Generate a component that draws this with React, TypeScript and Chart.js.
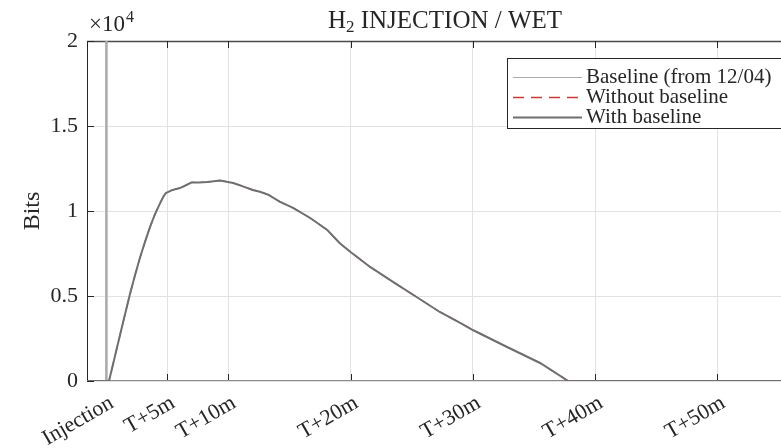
import { useEffect, useRef } from 'react';
import { Chart, registerables } from 'chart.js';

Chart.register(...registerables);

// Time axis in minutes relative to the injection
const xTickValues = [0, 5, 10, 20, 30, 40, 50];
const xTickLabels = ['Injection', 'T+5m', 'T+10m', 'T+20m', 'T+30m', 'T+40m', 'T+50m'];
const yTickValues = [0, 5000, 10000, 15000, 20000];
const yTickLabels = ['0', '0.5', '1', '1.5', '2'];

const baselineTime = [-1.55, 0, 0, 0.08, 0.08, 55.2];
const baselineBits = [0, 0, 30000, 30000, 0, 0];

const measureTime = [
  -1.55, 0.25, 0.7, 1.15, 1.55, 1.96, 2.37, 2.78, 3.2, 3.6, 4.0, 4.42, 4.7, 4.9, 5.4, 6.05,
  6.5, 7.0, 7.6, 8.3, 9.33, 10.4, 11.2, 12.0, 12.6, 13.3, 14.2, 15.3, 16.7, 18.1, 19.1, 20.0,
  21.6, 23.5, 25.4, 27.3, 29.0, 30.0, 32.8, 35.5, 37.8, 55.2,
];
const withoutBaselineBits = [
  0, 0, 1350, 2700, 3900, 5100, 6200, 7250, 8200, 9050, 9800, 10450, 10850, 11060, 11230, 11350,
  11500, 11680, 11680, 11700, 11800, 11650, 11450, 11240, 11130, 10950, 10550, 10180, 9590, 8880,
  8120, 7590, 6710, 5820, 4940, 4060, 3410, 3000, 2000, 1060, 0, 0,
];
const withBaselineBits = withoutBaselineBits;

const X_MIN = -1.55;
const X_MAX = 55.2;

const FONT = "'Liberation Serif', 'Times New Roman', serif";
const INK = '#262626';

const toPoints = (xs: number[], ys: number[]) => xs.map((x, i) => ({ x, y: ys[i] }));

const matlabFrame = {
  id: 'matlabFrame',
  beforeDatasetsDraw(chart: any) {
    const { ctx, chartArea: a, scales } = chart;
    ctx.save();
    ctx.strokeStyle = INK;
    ctx.lineWidth = 1;
    ctx.beginPath();
    ctx.moveTo(a.left + 0.5, a.bottom);
    ctx.lineTo(a.left + 0.5, a.top);
    ctx.stroke();
    ctx.beginPath();
    ctx.moveTo(a.left, a.bottom - 0.5);
    ctx.lineTo(a.right, a.bottom - 0.5);
    ctx.stroke();
    ctx.strokeStyle = '#4a4a4a';
    ctx.lineWidth = 1.5;
    ctx.beginPath();
    ctx.moveTo(a.left, a.top + 0.5);
    ctx.lineTo(a.right, a.top + 0.5);
    ctx.stroke();
    // inward tick marks
    ctx.strokeStyle = INK;
    ctx.lineWidth = 1;
    ctx.beginPath();
    for (const v of xTickValues) {
      const px = Math.round(scales.x.getPixelForValue(v)) + 0.5;
      ctx.moveTo(px, a.top);
      ctx.lineTo(px, a.top + 7);
      ctx.moveTo(px, a.bottom);
      ctx.lineTo(px, a.bottom - 7);
    }
    for (const v of yTickValues) {
      const py = Math.round(scales.y.getPixelForValue(v)) + 0.5;
      ctx.moveTo(a.left, py);
      ctx.lineTo(a.left + 7, py);
    }
    ctx.stroke();
    ctx.restore();
  },
  afterDraw(chart: any) {
    const { ctx, chartArea: a } = chart;
    ctx.save();
    ctx.fillStyle = INK;
    ctx.textBaseline = 'alphabetic';

    // title with subscript
    const big = `25px ${FONT}`;
    const small = `17px ${FONT}`;
    ctx.font = big;
    const wH = ctx.measureText('H').width;
    const rest = ' INJECTION / WET';
    const wRest = ctx.measureText(rest).width;
    ctx.font = small;
    const w2 = ctx.measureText('2').width;
    const total = wH + w2 + wRest;
    let x = 445 - total / 2;
    const by = 28;
    ctx.font = big;
    ctx.fillText('H', x, by);
    x += wH;
    ctx.font = small;
    ctx.fillText('2', x, by + 4);
    x += w2;
    ctx.font = big;
    ctx.fillText(rest, x, by);

    // exponent of the y axis
    ctx.font = `23px ${FONT}`;
    ctx.fillText('\u00d710', a.left + 2, 31);
    const wx = ctx.measureText('\u00d710').width;
    ctx.font = `16px ${FONT}`;
    ctx.fillText('4', a.left + 2 + wx + 1, 22);

    // legend
    const lx = 507;
    const ly = 58;
    ctx.fillStyle = '#ffffff';
    ctx.fillRect(lx, ly, 300, 70);
    ctx.strokeStyle = INK;
    ctx.lineWidth = 1;
    ctx.strokeRect(lx + 0.5, ly + 0.5, 300, 70);
    const rows = [77, 97, 117];
    chart.data.datasets.forEach((ds: any, i: number) => {
      const ry = rows[i];
      const dashed = Array.isArray(ds.borderDash) && ds.borderDash.length > 0;
      ctx.save();
      ctx.strokeStyle = ds.borderColor;
      ctx.lineWidth = ds.legendWidth ?? ds.borderWidth;
      ctx.setLineDash(dashed ? [11, 7] : []);
      ctx.beginPath();
      ctx.moveTo(513, ry + 0.5);
      ctx.lineTo(dashed ? 578 : 582, ry + 0.5);
      ctx.stroke();
      ctx.restore();
      ctx.fillStyle = INK;
      ctx.font = `21px ${FONT}`;
      ctx.textBaseline = 'middle';
      ctx.fillText(ds.label, 586, ry);
    });
    ctx.restore();
  },
};

export default function App() {
  const ref = useRef<HTMLCanvasElement>(null);

  useEffect(() => {
    const chart = new Chart(ref.current as HTMLCanvasElement, {
      type: 'line',
      data: {
        datasets: [
          {
            label: 'Baseline (from 12/04)',
            data: toPoints(baselineTime, baselineBits),
            borderColor: '#ababab',
            borderWidth: 1.5,
            legendWidth: 1.2,
            pointRadius: 0,
            order: 2,
          } as any,
          {
            label: 'Without baseline',
            data: toPoints(measureTime, withoutBaselineBits),
            borderColor: '#cc3b30',
            borderWidth: 1.3,
            borderDash: [10, 6],
            pointRadius: 0,
            order: 1,
          },
          {
            label: 'With baseline',
            data: toPoints(measureTime, withBaselineBits),
            borderColor: '#6f6f6f',
            borderWidth: 2,
            pointRadius: 0,
            order: 0,
          },
        ],
      },
      options: {
        responsive: false,
        animation: false,
        devicePixelRatio: 1,
        layout: { padding: { top: 41, left: 0, right: 0, bottom: 0 } },
        plugins: {
          legend: { display: false },
          title: { display: false },
          tooltip: { enabled: false },
        },
        scales: {
          x: {
            type: 'linear',
            min: X_MIN,
            max: X_MAX,
            afterBuildTicks: (scale: any) => {
              scale.ticks = xTickValues.map((value) => ({ value }));
            },
            afterFit: (scale: any) => {
              scale.height = 67;
              scale.paddingLeft = 0;
              scale.paddingRight = 0;
            },
            ticks: {
              autoSkip: false,
              minRotation: 30,
              maxRotation: 30,
              padding: 9,
              labelOffset: 6,
              color: INK,
              font: { family: FONT, size: 22 },
              callback: (_v: any, i: number) => xTickLabels[i],
            },
            grid: { color: '#e2e2e2', drawTicks: false },
            border: { display: false },
          },
          y: {
            min: 0,
            max: 20000,
            afterBuildTicks: (scale: any) => {
              scale.ticks = yTickValues.map((value) => ({ value }));
            },
            afterFit: (scale: any) => {
              scale.width = 87;
            },
            ticks: {
              padding: 9,
              color: INK,
              font: { family: FONT, size: 22 },
              callback: (_v: any, i: number) => yTickLabels[i],
            },
            title: {
              display: true,
              text: 'Bits',
              color: INK,
              font: { family: FONT, size: 24 },
              padding: { top: 18, bottom: 0 },
            },
            grid: { color: '#e2e2e2', drawTicks: false },
            border: { display: false },
          },
        },
      },
      plugins: [matlabFrame],
    } as any);
    return () => chart.destroy();
  }, []);

  return (
    <div style={{ position: 'absolute', left: 0, top: 0, width: 781, height: 448, background: '#ffffff' }}>
      <canvas ref={ref} width={781} height={448} style={{ display: 'block' }} />
    </div>
  );
}
